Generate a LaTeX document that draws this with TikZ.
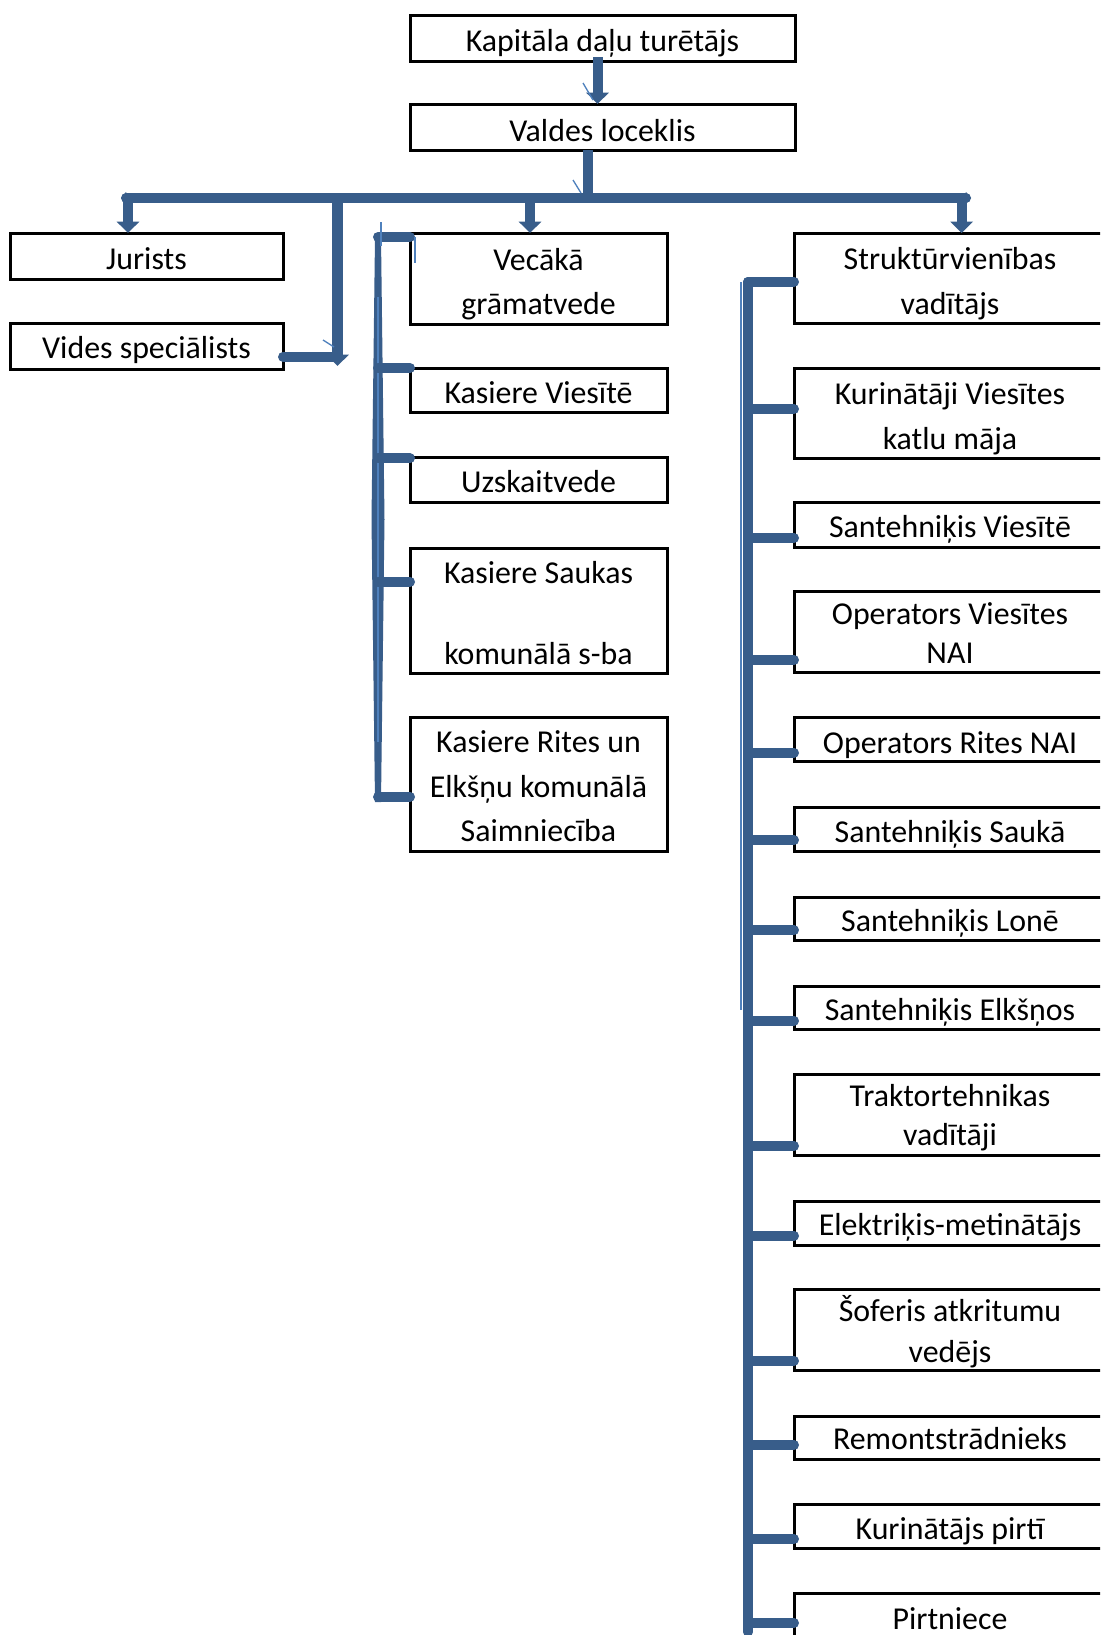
\documentclass[tikz,border=0pt]{standalone}
\usepackage{fontspec}
\setmainfont{Carlito}
\usetikzlibrary{arrows.meta,calc}
\definecolor{conn}{RGB}{56,93,138}
\definecolor{hairc}{RGB}{79,129,189}
\def\u{0.75pt}
\begin{document}
\begin{tikzpicture}[x=0.75pt,y=-0.75pt,
  box/.style={draw=black,line width=2.25pt,rectangle,inner sep=0pt,outer sep=0pt,anchor=north west},
  txt/.style={font=\fontsize{23.9}{28}\selectfont,anchor=base,inner sep=0pt,outer sep=0pt,text=black,yshift=-1.5*\u},
  link/.style={draw=conn,line width=7.5pt,line cap=round},
  arr/.style={draw=conn,line width=7.5pt,-{Triangle[width=16.5pt,length=8.5pt]}},
  hair/.style={draw=hairc,line width=1pt}]
\clip (0,0) rectangle (1100,1635);
\fill[white] (0,0) rectangle (1100,1635);

% ---------- boxes ----------
\node[box,minimum width=385*\u,minimum height=46*\u] (kap) at (410,15) {};
\node[box,minimum width=385*\u,minimum height=46*\u] (val) at (410,104) {};

\node[box,minimum width=273*\u,minimum height=46*\u] (jur) at (10,233) {};
\node[box,minimum width=273*\u,minimum height=46*\u] (vid) at (10,323) {};

\node[box,minimum width=257*\u,minimum height=91*\u] (vec) at (410,233) {};
\node[box,minimum width=257*\u,minimum height=44*\u] (kv) at (410,368) {};
\node[box,minimum width=257*\u,minimum height=45*\u] (uzs) at (410,457) {};
\node[box,minimum width=257*\u,minimum height=125*\u] (ks) at (410,548) {};
\node[box,minimum width=257*\u,minimum height=134*\u] (kr) at (410,717) {};

\node[box,minimum width=312*\u,minimum height=90*\u] (str) at (794,233) {};
\node[box,minimum width=312*\u,minimum height=90*\u] (kur) at (794,368) {};
\node[box,minimum width=312*\u,minimum height=45*\u] (sv) at (794,502) {};
\node[box,minimum width=312*\u,minimum height=81*\u] (ov) at (794,591) {};
\node[box,minimum width=312*\u,minimum height=44*\u] (orn) at (794,717) {};
\node[box,minimum width=312*\u,minimum height=44*\u] (ssa) at (794,807) {};
\node[box,minimum width=312*\u,minimum height=43*\u] (sl) at (794,897) {};
\node[box,minimum width=312*\u,minimum height=43*\u] (se) at (794,986) {};
\node[box,minimum width=312*\u,minimum height=81*\u] (tr) at (794,1074) {};
\node[box,minimum width=312*\u,minimum height=44*\u] (el) at (794,1201) {};
\node[box,minimum width=312*\u,minimum height=81*\u] (so) at (794,1289) {};
\node[box,minimum width=312*\u,minimum height=43*\u] (re) at (794,1416) {};
\node[box,minimum width=312*\u,minimum height=44*\u] (kp) at (794,1504) {};
\node[box,minimum width=312*\u,minimum height=60*\u] (pi) at (794,1593) {};

% ---------- texts ----------
\node[txt] (kapt) at (602.5,50) {Kapitāla daļu turētājs};
\node[txt] (valt) at (602.5,139.5) {Valdes loceklis};
\node[txt] (jurt) at (146.5,268.3) {Jurists};
\node[txt] (vidt) at (146.5,356.7) {Vides speciālists};

\node[txt] (vect1) at (538.5,269.3) {Vecākā};
\node[txt] (vect2) at (538.5,313.3) {grāmatvede};
\node[txt] (kvt) at (538.5,401.7) {Kasiere Viesītē};
\node[txt] (uzst) at (538.5,491) {Uzskaitvede};
\node[txt] (kst1) at (538.5,581.7) {Kasiere Saukas};
\node[txt] (kst2) at (538.5,663.3) {komunālā s-ba};
\node[txt] (krt1) at (538.5,750.7) {Kasiere Rites un};
\node[txt] (krt2) at (538.5,795.7) {Elkšņu komunālā};
\node[txt] (krt3) at (538.5,840) {Saimniecība};

\node[txt] (strt1) at (950,268.3) {Struktūrvienības};
\node[txt] (strt2) at (950,313.3) {vadītājs};
\node[txt] (kurt1) at (950,402.7) {Kurinātāji Viesītes};
\node[txt] (kurt2) at (950,447.7) {katlu māja};
\node[txt] (svt) at (950,536) {Santehniķis Viesītē};
\node[txt] (ovt1) at (950,622.7) {Operators Viesītes};
\node[txt] (ovt2) at (950,661.7) {NAI};
\node[txt] (ornt) at (950,751.7) {Operators Rites NAI};
\node[txt] (ssat) at (950,840.7) {Santehniķis Saukā};
\node[txt] (slt) at (950,930) {Santehniķis Lonē};
\node[txt] (set) at (950,1019) {Santehniķis Elkšņos};
\node[txt] (trt1) at (950,1105) {Traktortehnikas};
\node[txt] (trt2) at (950,1144) {vadītāji};
\node[txt] (elt) at (950,1234) {Elektriķis-metinātājs};
\node[txt] (sot1) at (950,1320) {Šoferis atkritumu};
\node[txt] (sot2) at (950,1360.7) {vedējs};
\node[txt] (ret) at (950,1448.3) {Remontstrādnieks};
\node[txt] (kpt) at (950,1538.3) {Kurinātājs pirtī};
\node[txt] (pit) at (950,1628.3) {Pirtniece};

% ---------- top connectors ----------
\draw[arr] ([xshift=-5*\u,yshift=4*\u]kap.south) -- ([xshift=-5*\u]val.north);
\coordinate (busL) at (126,198);
\coordinate (busR) at (966,198);
\coordinate (vS) at ([xshift=-15*\u]val.south);
\draw[link,line cap=butt] (vS) -- (vS |- busL);
\draw[link] (busL) -- (busR);
\fill[conn] ([xshift=-5*\u]busL) -- ([yshift=6*\u]busL) -- ([xshift=3*\u]busL) -- ([yshift=-6*\u]busL) -- cycle;
\fill[conn] ([xshift=5*\u]busR) -- ([yshift=6*\u]busR) -- ([xshift=-3*\u]busR) -- ([yshift=-6*\u]busR) -- cycle;

\coordinate (jA) at ([xshift=-18.5*\u]jur.north);
\draw[arr] (jA |- busL) -- (jA);
\coordinate (vecA) at ([xshift=-8.5*\u]vec.north);
\draw[arr] (vecA |- busL) -- (vecA);
\coordinate (strA) at ([xshift=11.7*\u]str.north);
\draw[arr] (strA |- busL) -- (strA);

\coordinate (vV) at (337.5,366);
\draw[arr,line width=8.5pt] (vV |- busL) -- (vV);
\coordinate (vA) at ([yshift=-10.7*\u]vid.east);
\draw[link] (vA) -- (vA -| vV);

% ---------- middle bracket ----------
\coordinate (mT) at (378,237);
\coordinate (mB) at (378,802);
\coordinate (mM) at ($(mT)!.5!(mB)$);
\fill[conn] ([xshift=-3*\u]mT) -- ([xshift=-6.5*\u]mM) -- ([xshift=-3*\u]mB)
  -- ([xshift=3*\u]mB) -- ([xshift=6.5*\u]mM) -- ([xshift=3*\u]mT) -- cycle;
\draw[draw=hairc,line width=1.5pt] ([yshift=-60*\u]mT) -- ([yshift=60*\u]mB);
\foreach \b/\d in {vec/4,kv/0,uzs/1.3,ks/33.7,kr/79.7}{
  \coordinate (\b S) at ([yshift=-\d*\u]\b.north west);
  \draw[link] (\b S) -- (\b S -| mT);
}

% ---------- right bracket ----------
\coordinate (rT) at (748,282);
\coordinate (rB) at (748,1632);
\draw[link] (rT) -- (rB);
\draw[hair,line width=1.5pt] (741,282) -- (741,1010);
\foreach \b/\d in {str/48.7,kur/41,sv/36,ov/69,orn/35.7,ssa/33.3,sl/33.3,se/34.7,tr/72,el/34.7,so/71.7,re/29,kp/35,pi/30}{
  \coordinate (\b S) at ([yshift=-\d*\u]\b.north west);
  \draw[link] (\b S) -- (\b S -| rT);
}

% ---------- stray hairlines ----------
\draw[hair] (583,83) -- (593,100);
\draw[hair] (573,180) -- (581,193);
\draw[hair] (323,340) -- (334,347);
\draw[hair] (381,222) -- (381,246);
\draw[hair] (415,237) -- (415,263);
\end{tikzpicture}
\end{document}
